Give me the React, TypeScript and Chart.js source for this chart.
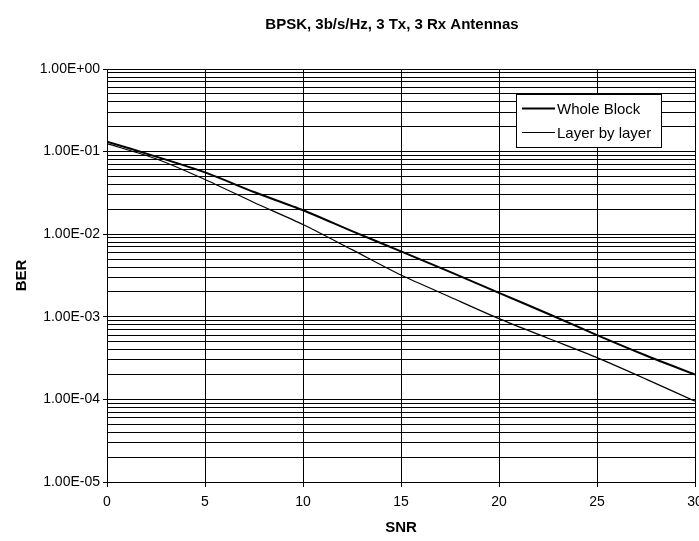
import React, { useEffect, useRef } from "react";
import { Chart, registerables } from "chart.js";

Chart.register(...registerables);

const chartTitle = "BPSK, 3b/s/Hz, 3 Tx, 3 Rx Antennas";
const xAxisTitle = "SNR";
const yAxisTitle = "BER";
const snr = [0, 2.5, 5, 7.5, 10, 12.5, 15, 17.5, 20, 22.5, 25, 27.5, 30];
const wholeBlock = [0.132, 0.087, 0.056, 0.0324, 0.0195, 0.0109, 0.0062, 0.0035, 0.00195, 0.00109, 0.0006, 0.00034, 0.0002];
const layerByLayer = [0.125, 0.082, 0.046, 0.0242, 0.0131, 0.0065, 0.0032, 0.00174, 0.00095, 0.00055, 0.00032, 0.000176, 0.000095];
const seriesNames = ["Whole Block", "Layer by layer"];
const yMin = 1e-5;
const yMax = 1;
const xTicks = [0, 5, 10, 15, 20, 25, 30];

const FONT = "'Liberation Sans', Arial, sans-serif";

const isDecade = (v: number) => Math.abs(Math.log10(v) - Math.round(Math.log10(v))) < 1e-9;
const fmtE = (v: number) => {
  const e = Math.round(Math.log10(v));
  const sign = e < 0 ? "-" : "+";
  return `1.00E${sign}${String(Math.abs(e)).padStart(2, "0")}`;
};

const overlayPlugin = {
  id: "overlay",
  afterDraw(chart: any) {
    const ctx = chart.ctx;
    ctx.save();
    // title
    ctx.fillStyle = "#000";
    ctx.font = `bold 15px ${FONT}`;
    ctx.textAlign = "center";
    ctx.textBaseline = "middle";
    ctx.fillText(chartTitle, 392, 25);
    // legend
    const bx = 516, by = 94, bw = 145, bh = 53;
    ctx.fillStyle = "#fff";
    ctx.fillRect(bx, by, bw, bh);
    ctx.strokeStyle = "#000";
    ctx.lineWidth = 1;
    ctx.strokeRect(bx + 0.5, by + 0.5, bw, bh);
    const rows = [108.5, 132.5];
    chart.data.datasets.forEach((ds: any, i: number) => {
      const y = rows[i];
      ctx.strokeStyle = ds.borderColor;
      ctx.lineWidth = ds.borderWidth;
      ctx.beginPath();
      ctx.moveTo(522, y);
      ctx.lineTo(555, y);
      ctx.stroke();
      ctx.fillStyle = "#000";
      ctx.font = `15px ${FONT}`;
      ctx.textAlign = "left";
      ctx.textBaseline = "middle";
      ctx.fillText(ds.label, 557, y + 1);
    });
    ctx.restore();
  },
};

export default function App() {
  const ref = useRef<HTMLCanvasElement | null>(null);
  useEffect(() => {
    if (!ref.current) return;
    const chart = new Chart(ref.current, {
      type: "line",
      data: {
        datasets: [
          {
            label: seriesNames[0],
            data: snr.map((x, i) => ({ x, y: wholeBlock[i] })),
            borderColor: "#000",
            borderWidth: 2,
            pointRadius: 0,
            tension: 0.25,
            fill: false,
          },
          {
            label: seriesNames[1],
            data: snr.map((x, i) => ({ x, y: layerByLayer[i] })),
            borderColor: "#000",
            borderWidth: 1.2,
            pointRadius: 0,
            tension: 0.25,
            fill: false,
          },
        ],
      },
      options: {
        animation: false,
        responsive: false,
        maintainAspectRatio: false,
        layout: { padding: { top: 69, right: 25, bottom: 0, left: 0 } },
        plugins: {
          legend: { display: false },
          title: { display: false },
          tooltip: { enabled: false },
        },
        scales: {
          x: {
            type: "linear",
            min: 0,
            max: 30,
            afterBuildTicks: (s: any) => {
              s.ticks = xTicks.map((v) => ({ value: v }));
            },
            afterFit: (s: any) => {
              s.height = 59;
            },
            grid: { color: "#000", lineWidth: 1, tickLength: 5, tickColor: "#000" },
            border: { color: "#000", width: 1 },
            ticks: {
              color: "#000",
              font: { family: FONT, size: 14 },
              padding: 7,
              autoSkip: false,
              maxRotation: 0,
            },
            title: {
              display: true,
              text: xAxisTitle,
              color: "#000",
              font: { family: FONT, size: 15, weight: "bold" },
              padding: { top: 0, bottom: 4 },
            },
          },
          y: {
            type: "logarithmic",
            min: yMin,
            max: yMax,
            afterBuildTicks: (s: any) => {
              const t: any[] = [];
              for (let e = Math.round(Math.log10(yMin)); e < Math.round(Math.log10(yMax)); e++) {
                for (let m = 1; m <= 9; m++) t.push({ value: m * Math.pow(10, e), major: m === 1 });
              }
              t.push({ value: yMax, major: true });
              s.ticks = t;
            },
            afterFit: (s: any) => {
              s.width = 107;
            },
            grid: {
              color: "#000",
              lineWidth: 1,
              tickLength: 4,
              tickColor: (c: any) => (c.tick && isDecade(c.tick.value) ? "#000" : "rgba(0,0,0,0)"),
            },
            border: { color: "#000", width: 1 },
            ticks: {
              color: "#000",
              font: { family: FONT, size: 14 },
              padding: 3,
              autoSkip: false,
              callback: (v: any) => (isDecade(Number(v)) ? fmtE(Number(v)) : ""),
            },
            title: {
              display: true,
              text: yAxisTitle,
              color: "#000",
              font: { family: FONT, size: 15, weight: "bold" },
              padding: { top: 13, bottom: 0 },
            },
          },
        },
      },
      plugins: [overlayPlugin],
    });
    return () => chart.destroy();
  }, []);
  return (
    <div style={{ position: "absolute", left: 0, top: 0, width: 699, height: 541, overflow: "hidden", background: "#fff" }}>
      <canvas ref={ref} width={720} height={541} style={{ display: "block", width: 720, height: 541 }} />
    </div>
  );
}
